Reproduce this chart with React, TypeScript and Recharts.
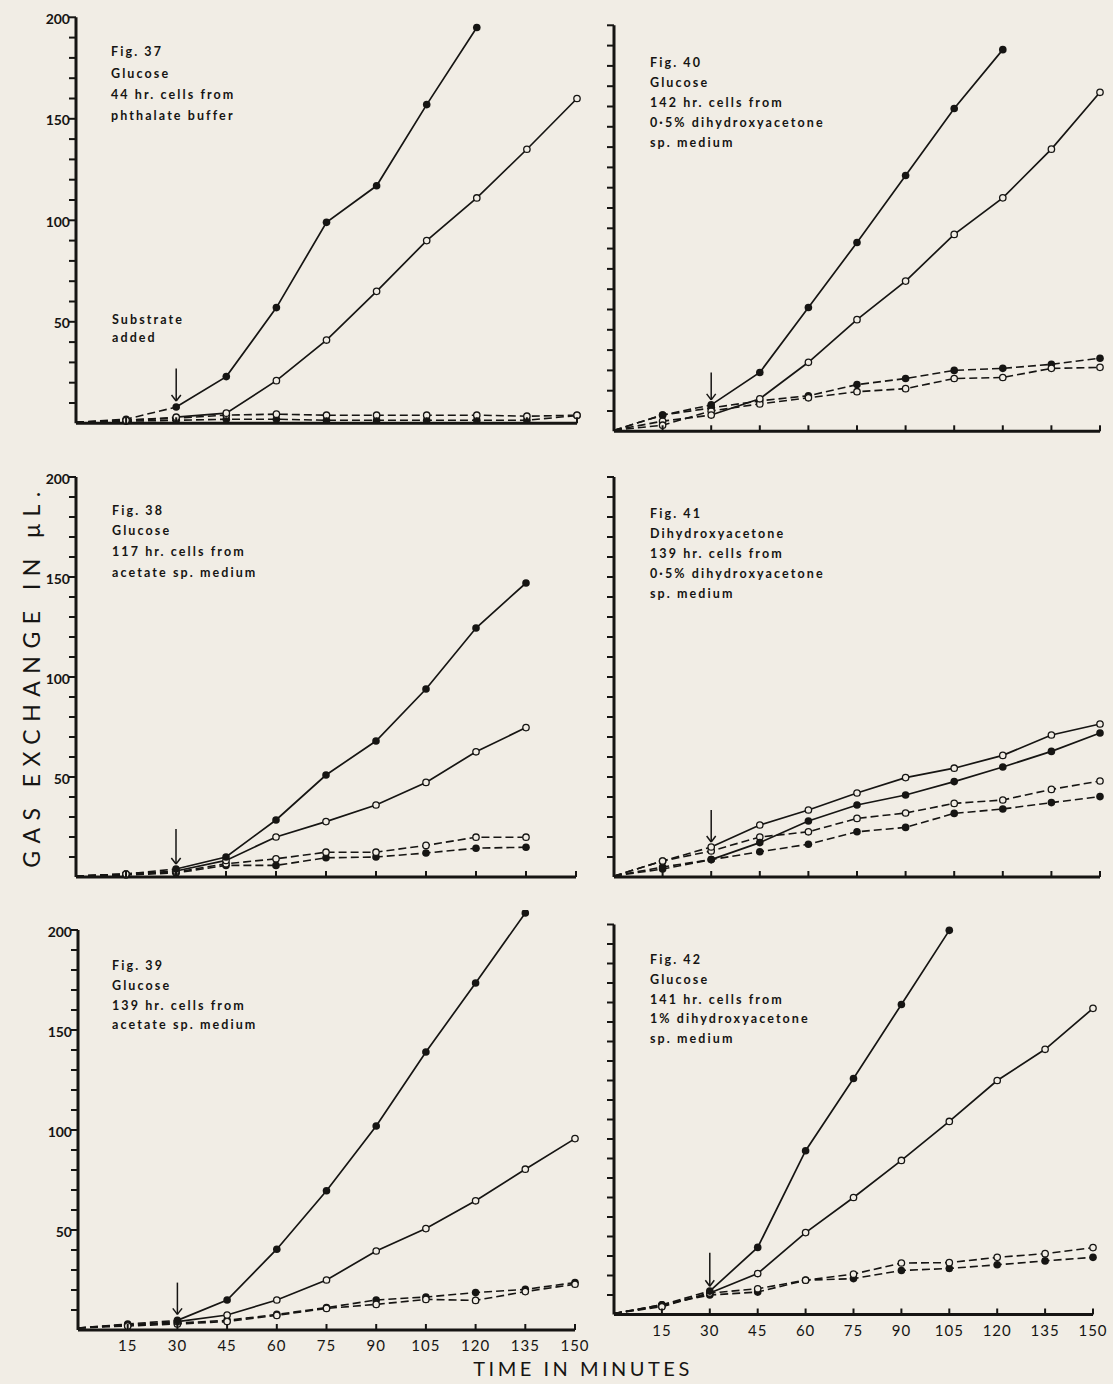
import React from "react";
import { LineChart, Line, XAxis, YAxis, ReferenceLine } from "recharts";

const INK = "#161513";
const PAPER = "#f1ede5";
const FONT = "Lato, 'DejaVu Sans', sans-serif";

const minutes = [0, 15, 30, 45, 60, 75, 90, 105, 120, 135, 150];
const xTicks = [15, 30, 45, 60, 75, 90, 105, 120, 135, 150];
const yTicks = [10, 20, 30, 40, 50, 60, 70, 80, 90, 100, 110, 120, 130, 140, 150, 160, 170, 180, 190, 200];
const yLabelValues = [50, 100, 150, 200];

// Fig. 37 — glucose, 44 hr. cells from phthalate buffer
const f37Filled = [null, null, 8, 23, 57, 99, 117, 157, 195, null, null];
const f37Open = [null, null, 3, 5, 21, 41, 65, 90, 111, 135, 160];
const f37FilledPre = [0.5, 2, 8];
const f37OpenPre = [0.5, 1.5, 3];
const f37FilledDash = [0.5, 1, 1.5, 2, 2, 1.5, 1.5, 1.5, 1.5, 1.5, 3.8];
const f37OpenDash = [0.5, 1.5, 2.5, 4, 4.5, 4, 4, 4, 4, 3.5, 4];

// Fig. 40 — glucose, 142 hr. cells from 0.5% dihydroxyacetone
const f40Filled = [null, null, 13, 29, 61, 93, 126, 159, 188, null, null];
const f40Open = [null, null, 8, 16, 34, 55, 74, 97, 115, 139, 167];
const f40FilledPre = [0.5, 8, 13];
const f40OpenPre = [0.5, 5, 8];
const f40FilledDash = [0.5, 8, 11.5, 15, 17.5, 23, 26, 30, 31, 33, 36];
const f40OpenDash = [0.5, 3, 10, 13.5, 16.5, 19.5, 21, 26, 26.5, 31, 31.5];

// Fig. 38 — glucose, 117 hr. cells from acetate
const f38Filled = [null, null, 4, 10, 28.5, 51, 68, 94, 124.5, 147, null];
const f38Open = [null, null, 3, 8.3, 20, 27.7, 36, 47.3, 62.6, 74.7, null];
const f38FilledPre = [0.5, 1.5, 4];
const f38OpenPre = [0.5, 1.5, 3];
const f38FilledDash = [0.5, 1, 2, 5.8, 5.8, 9.6, 10, 12, 14.4, 14.9, null];
const f38OpenDash = [0.5, 1.5, 2.5, 6.6, 9.1, 12.4, 12.4, 15.8, 19.9, 19.9, null];

// Fig. 41 — dihydroxyacetone, 139 hr. cells from 0.5% dihydroxyacetone
const f41Filled = [null, null, 8.7, 17.2, 28, 36, 41, 47.7, 55, 62.8, 72];
const f41Open = [null, null, 15, 26, 33.5, 42, 49.7, 54.4, 60.8, 71, 76.5];
const f41FilledPre = [0.5, 5, 8.7];
const f41OpenPre = [0.5, 8, 15];
const f41FilledDash = [0.5, 4, 8.7, 12.6, 16.4, 22.6, 24.8, 31.8, 34, 37.2, 40.2];
const f41OpenDash = [0.5, 8, 13, 20, 22.6, 29.3, 32, 36.8, 38.5, 43.8, 48];

// Fig. 39 — glucose, 139 hr. cells from acetate
const f39Filled = [null, null, 4.8, 15, 40.4, 69.6, 102, 139, 173.5, 208.5, null];
const f39Open = [null, null, 4.2, 7.5, 15, 25, 39.5, 50.7, 64.6, 80.4, 95.7];
const f39FilledPre = [1, 3, 4.8];
const f39OpenPre = [1, 2.5, 4.2];
const f39FilledDash = [1, 2.5, 3.5, 4.8, 7.8, 11.2, 15, 16.5, 18.7, 20.3, 23.7];
const f39OpenDash = [1, 2, 3, 4.2, 7.3, 10.8, 12.8, 15.3, 14.8, 19.2, 22.9];

// Fig. 42 — glucose, 141 hr. cells from 1% dihydroxyacetone
const f42Filled = [null, null, 12, 34.4, 84, 121, 159, 197, null, null, null];
const f42Open = [null, null, 11, 21, 42, 60, 79, 99, 120, 136, 157];
const f42FilledPre = [0.5, 5, 12];
const f42OpenPre = [0.5, 4.5, 11];
const f42FilledDash = [0.5, 5, 10, 11.5, 17.6, 18.4, 22.6, 23.6, 25.5, 27.5, 29.3];
const f42OpenDash = [0.5, 4, 11, 13.2, 17.6, 20.7, 26.4, 26.6, 29.3, 31.2, 34.3];

type Val = number | null;

function buildRows(fs: Val[], os: Val[], fsPre: Val[], osPre: Val[], fd: Val[], od: Val[]) {
  return minutes.map((t, i) => ({
    t,
    fs: fs[i],
    os: os[i],
    fsPre: i < fsPre.length ? fsPre[i] : null,
    osPre: i < osPre.length ? osPre[i] : null,
    fd: fd[i],
    od: od[i],
  }));
}

const panels = [
  {
    id: "37",
    text: ["Fig. 37", "Glucose", "44 hr. cells from", "phthalate buffer"],
    textAt: { x: 111, y: 52, lh: 21.3 },
    rows: buildRows(f37Filled, f37Open, f37FilledPre, f37OpenPre, f37FilledDash, f37OpenDash),
    box: { x0: 76, x150: 577, y0: 423, y200: 17 },
    arrow: [27, 11],
    xLabels: false,
    yLabels: true,
  },
  {
    id: "40",
    text: ["Fig. 40", "Glucose", "142 hr. cells from", "0·5% dihydroxyacetone", "sp. medium"],
    textAt: { x: 650, y: 63, lh: 20 },
    rows: buildRows(f40Filled, f40Open, f40FilledPre, f40OpenPre, f40FilledDash, f40OpenDash),
    box: { x0: 614, x150: 1100, y0: 431, y200: 25 },
    arrow: [29, 15.5],
    xLabels: false,
    yLabels: false,
  },
  {
    id: "38",
    text: ["Fig. 38", "Glucose", "117 hr. cells from", "acetate sp. medium"],
    textAt: { x: 112, y: 511, lh: 20.7 },
    rows: buildRows(f38Filled, f38Open, f38FilledPre, f38OpenPre, f38FilledDash, f38OpenDash),
    box: { x0: 76, x150: 576, y0: 877, y200: 477 },
    arrow: [24, 6.5],
    xLabels: false,
    yLabels: true,
  },
  {
    id: "41",
    text: ["Fig. 41", "Dihydroxyacetone", "139 hr. cells from", "0·5% dihydroxyacetone", "sp. medium"],
    textAt: { x: 650, y: 514, lh: 20 },
    rows: buildRows(f41Filled, f41Open, f41FilledPre, f41OpenPre, f41FilledDash, f41OpenDash),
    box: { x0: 614, x150: 1100, y0: 877, y200: 477 },
    arrow: [33.5, 17.5],
    xLabels: false,
    yLabels: false,
  },
  {
    id: "39",
    text: ["Fig. 39", "Glucose", "139 hr. cells from", "acetate sp. medium"],
    textAt: { x: 112, y: 966, lh: 19.7 },
    rows: buildRows(f39Filled, f39Open, f39FilledPre, f39OpenPre, f39FilledDash, f39OpenDash),
    box: { x0: 78, x150: 575, y0: 1330, y200: 930 },
    arrow: [23.7, 7.8],
    xLabels: true,
    yLabels: true,
  },
  {
    id: "42",
    text: ["Fig. 42", "Glucose", "141 hr. cells from", "1% dihydroxyacetone", "sp. medium"],
    textAt: { x: 650, y: 960, lh: 19.7 },
    rows: buildRows(f42Filled, f42Open, f42FilledPre, f42OpenPre, f42FilledDash, f42OpenDash),
    box: { x0: 614, x150: 1093, y0: 1314, y200: 924 },
    arrow: [31.7, 14.5],
    xLabels: true,
    yLabels: false,
  },
];

const YW = 50;
const XH = 30;
const MR = 20;

function dotRenderer(kind: "filled" | "open", skipAt30: boolean) {
  return (p: any) => {
    const { cx, cy, index, payload, value } = p;
    const key = `${kind}-${index}`;
    if (value == null || cy == null || payload.t === 0 || (skipAt30 && payload.t === 30)) {
      return <g key={key} />;
    }
    if (kind === "filled") {
      return <circle key={key} cx={cx} cy={cy} r={3.8} fill={INK} />;
    }
    return <circle key={key} cx={cx} cy={cy} r={3.2} fill={PAPER} stroke={INK} strokeWidth={1.3} />;
  };
}

function XTick(props: any) {
  const { x, y, payload, show } = props;
  return (
    <g>
      <line x1={x} x2={x} y1={y} y2={y - 6} stroke={INK} strokeWidth={2} />
      {show ? (
        <text x={x} y={y + 15} textAnchor="middle" dominantBaseline="central" fontFamily={FONT} fontSize={15} letterSpacing={1} fill={INK}>
          {payload.value}
        </text>
      ) : null}
    </g>
  );
}

function YTick(props: any) {
  const { x, y, payload, show } = props;
  const labelled = show && yLabelValues.includes(payload.value);
  return (
    <g>
      <line x1={x - 7} x2={x} y1={y} y2={y} stroke={INK} strokeWidth={2} />
      {labelled ? (
        <text x={x - 6} y={y + 1} textAnchor="end" dominantBaseline="central" fontFamily={FONT} fontSize={14} fontWeight={700} fill={INK}>
          {payload.value}
        </text>
      ) : null}
    </g>
  );
}

function Panel(props: { panel: (typeof panels)[number] }) {
  const { panel } = props;
  const { x0, x150, y0, y200 } = panel.box;
  const pxPerUnit = (y0 - y200) / 200;
  const yTop = y200 - 10 * pxPerUnit;
  const width = x150 - x0 + YW + MR;
  const height = y0 - yTop + XH;
  const [arrowTop, arrowTip] = panel.arrow;
  const head = 6 / pxPerUnit;
  const dash = "8 4";

  return (
    <div style={{ position: "absolute", left: x0 - YW, top: yTop }}>
      <LineChart width={width} height={height} data={panel.rows} margin={{ top: 0, right: MR, bottom: 0, left: 0 }}>
        <XAxis
          type="number"
          dataKey="t"
          domain={[0, 150]}
          ticks={xTicks}
          interval={0}
          height={XH}
          axisLine={{ stroke: INK, strokeWidth: 3 }}
          tickLine={false}
          tickSize={0}
          tickMargin={0}
          tick={(p: any) => <XTick {...p} show={panel.xLabels} />}
        />
        <YAxis
          type="number"
          domain={[0, 210]}
          ticks={yTicks}
          interval={0}
          width={YW}
          axisLine={false}
          tickLine={false}
          tickSize={0}
          tickMargin={0}
          tick={(p: any) => <YTick {...p} show={panel.yLabels} />}
        />
        <ReferenceLine segment={[{ x: 0, y: 0 }, { x: 0, y: 200 }]} stroke={INK} strokeWidth={3} />
        <ReferenceLine segment={[{ x: 30, y: arrowTop }, { x: 30, y: arrowTip }]} stroke={INK} strokeWidth={1.5} />
        <ReferenceLine segment={[{ x: 28.6, y: arrowTip + head }, { x: 30, y: arrowTip }]} stroke={INK} strokeWidth={1.5} />
        <ReferenceLine segment={[{ x: 31.4, y: arrowTip + head }, { x: 30, y: arrowTip }]} stroke={INK} strokeWidth={1.5} />
        <Line type="linear" dataKey="fsPre" stroke={INK} strokeWidth={1.6} strokeDasharray={dash} dot={dotRenderer("filled", true)} isAnimationActive={false} />
        <Line type="linear" dataKey="osPre" stroke={INK} strokeWidth={1.6} strokeDasharray={dash} dot={dotRenderer("open", true)} isAnimationActive={false} />
        <Line type="linear" dataKey="fd" stroke={INK} strokeWidth={1.6} strokeDasharray={dash} dot={dotRenderer("filled", false)} isAnimationActive={false} />
        <Line type="linear" dataKey="od" stroke={INK} strokeWidth={1.6} strokeDasharray={dash} dot={dotRenderer("open", false)} isAnimationActive={false} />
        <Line type="linear" dataKey="os" stroke={INK} strokeWidth={1.7} dot={dotRenderer("open", false)} isAnimationActive={false} />
        <Line type="linear" dataKey="fs" stroke={INK} strokeWidth={1.7} dot={dotRenderer("filled", false)} isAnimationActive={false} />
      </LineChart>
    </div>
  );
}

function PanelText(props: { lines: string[]; x: number; y: number; lh: number }) {
  const { lines, x, y, lh } = props;
  return (
    <div
      style={{
        position: "absolute",
        left: x,
        top: y - lh / 2,
        fontFamily: FONT,
        fontWeight: 700,
        fontSize: 12.5,
        letterSpacing: 2.1,
        lineHeight: `${lh}px`,
        color: INK,
        whiteSpace: "nowrap",
      }}
    >
      {lines.map((l) => (
        <div key={l}>{l}</div>
      ))}
    </div>
  );
}

export default function App() {
  return (
    <div style={{ position: "absolute", left: 0, top: 0, width: 1113, height: 1384, background: PAPER, overflow: "hidden" }}>
      {panels.map((p) => (
        <Panel key={p.id} panel={p} />
      ))}
      {panels.map((p) => (
        <PanelText key={`t${p.id}`} lines={p.text} x={p.textAt.x} y={p.textAt.y} lh={p.textAt.lh} />
      ))}
      <PanelText lines={["Substrate", "added"]} x={112} y={320} lh={17.5} />
      <div
        style={{
          position: "absolute",
          left: 31,
          top: 676,
          transform: "translate(-50%, -50%) rotate(-90deg)",
          fontFamily: FONT,
          fontSize: 23,
          letterSpacing: 7.5,
          color: INK,
          whiteSpace: "nowrap",
        }}
      >
        GAS EXCHANGE IN μL.
      </div>
      <div
        style={{
          position: "absolute",
          left: 583,
          top: 1368,
          transform: "translate(-50%, -50%)",
          fontFamily: FONT,
          fontSize: 20,
          letterSpacing: 3.5,
          color: INK,
          whiteSpace: "nowrap",
        }}
      >
        TIME IN MINUTES
      </div>
    </div>
  );
}
